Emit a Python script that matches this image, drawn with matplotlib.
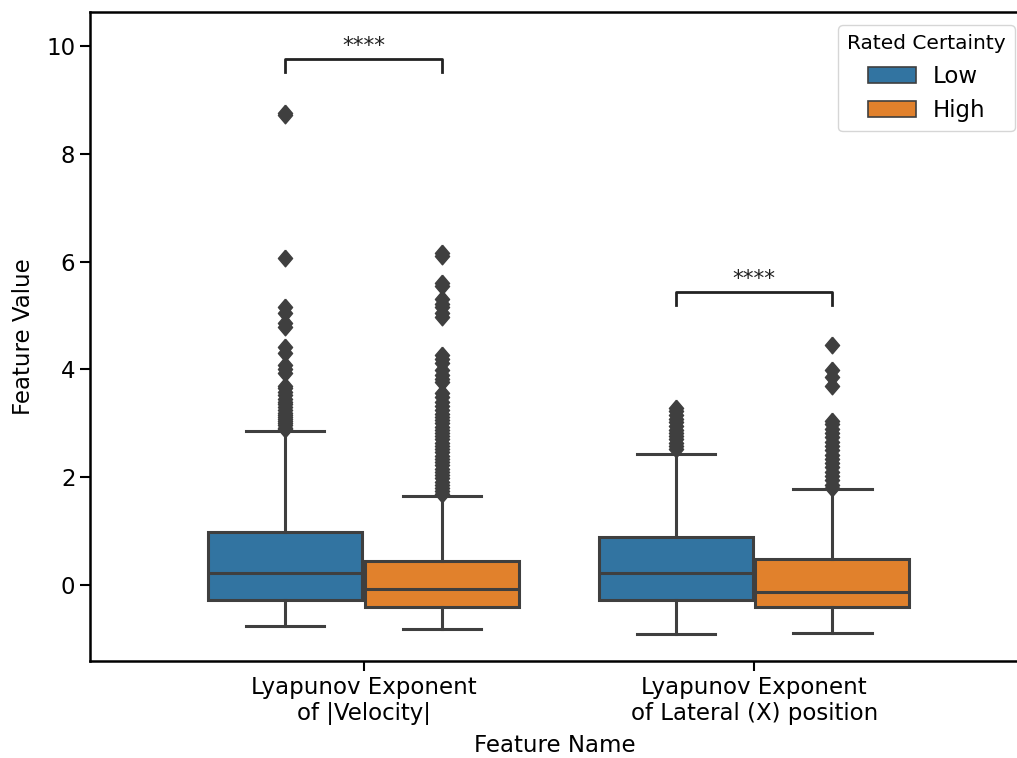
import matplotlib
matplotlib.use("Agg")
import matplotlib.pyplot as plt
from matplotlib.patches import Patch
import numpy as np

features = ["Lyapunov Exponent\nof |Velocity|", "Lyapunov Exponent\nof Lateral (X) position"]
hues = ["Low", "High"]
colors = ["#3274a1", "#e1812c"]

# box summary per feature, [low, high]
q1 = [[-0.28, -0.40], [-0.28, -0.41]]
med = [[0.22, -0.07], [0.23, -0.13]]
q3 = [[0.99, 0.45], [0.89, 0.48]]
whislo = [[-0.76, -0.82], [-0.91, -0.89]]
whishi = [[2.86, 1.65], [2.43, 1.78]]

fliers_vel_low = [8.76, 8.72, 6.07, 5.16, 5.05, 4.86, 4.78, 4.42, 4.30, 4.08, 4.00, 3.93,
                  3.70, 3.65, 3.58, 3.52, 3.45, 3.40, 3.36, 3.30, 3.25, 3.20, 3.16, 3.12,
                  3.08, 3.04, 3.00, 2.96, 2.92, 2.89]
fliers_vel_high = [6.16, 6.10, 5.60, 5.55, 5.30, 5.22, 5.15, 5.05, 4.98, 4.27, 4.20, 4.12,
                   3.98, 3.90, 3.82, 3.76, 3.56, 3.48, 3.40, 3.32, 3.25, 3.18, 3.12, 3.06,
                   3.00, 2.94, 2.88, 2.82, 2.76, 2.70, 2.64, 2.58, 2.52, 2.46, 2.40, 2.34,
                   2.28, 2.22, 2.16, 2.10, 2.04, 1.98, 1.92, 1.86, 1.80, 1.74, 1.69]
fliers_lat_low = [3.28, 3.22, 3.15, 3.08, 3.02, 2.95, 2.88, 2.82, 2.76, 2.70, 2.64, 2.58, 2.52]
fliers_lat_high = [4.45, 3.98, 3.85, 3.70, 3.05, 2.98, 2.90, 2.82, 2.74, 2.66, 2.58, 2.50,
                   2.42, 2.34, 2.26, 2.18, 2.10, 2.02, 1.94, 1.86, 1.80]
fliers = [[fliers_vel_low, fliers_vel_high], [fliers_lat_low, fliers_lat_high]]

# significance brackets: (feature index, height, label)
sig_y = [9.76, 5.44]
sig_text = ["****", "****"]

fs = 16.5
edge = "#3f3f3f"
lw = 2.2
diamond = [(0, 1), (0.85, 0), (0, -1), (-0.85, 0), (0, 1)]

fig = plt.figure(figsize=(10.17, 7.58), dpi=100)
ax = fig.add_axes([90 / 1017, 1 - 661 / 758, 930 / 1017, 649 / 758])

width = 0.4
for i in range(len(features)):
    for j in range(len(hues)):
        pos = i + (j - 0.5) * width
        st = dict(q1=q1[i][j], med=med[i][j], q3=q3[i][j],
                  whislo=whislo[i][j], whishi=whishi[i][j], fliers=fliers[i][j])
        ax.bxp([st], positions=[pos], widths=width * 0.985, patch_artist=True,
               showfliers=True, manage_ticks=False,
               boxprops=dict(facecolor=colors[j], edgecolor=edge, linewidth=lw),
               medianprops=dict(color=edge, linewidth=lw),
               whiskerprops=dict(color=edge, linewidth=lw),
               capprops=dict(color=edge, linewidth=lw),
               capwidths=width * 0.5,
               flierprops=dict(marker=diamond, markerfacecolor=edge, markeredgecolor=edge,
                               markersize=12, linestyle="none"))

for i in range(len(features)):
    y = sig_y[i]
    h = 0.24
    x1, x2 = i - width / 2, i + width / 2
    ax.plot([x1, x1, x2, x2], [y - h, y, y, y - h], color="#222222", lw=2.0)
    ax.text(i, y + 0.06, sig_text[i], ha="center", va="bottom", fontsize=15.5, color="#222222")

ax.set_xlim(-0.70, 1.68)
ax.set_ylim(-1.41, 10.63)
ax.set_xticks(range(len(features)))
ax.set_xticklabels(features, fontsize=fs)
ax.set_yticks([0, 2, 4, 6, 8, 10])
ax.tick_params(axis="y", labelsize=fs, length=7, width=1.5)
ax.tick_params(axis="x", length=7, width=1.5)
ax.set_xlabel("Feature Name", fontsize=fs, labelpad=6)
ax.set_ylabel("Feature Value", fontsize=fs, labelpad=8)
for s in ax.spines.values():
    s.set_linewidth(1.8)

handles = [Patch(facecolor=colors[k], edgecolor=edge, linewidth=1.2, label=hues[k]) for k in range(2)]
leg = ax.legend(handles=handles, title="Rated Certainty", fontsize=fs, title_fontsize=14.5,
                loc="upper right", bbox_to_anchor=(1015 / 1017, 1 - 25 / 758),
                bbox_transform=fig.transFigure, borderaxespad=0, handlelength=2.1,
                handletextpad=0.7, labelspacing=0.5, borderpad=0.4)

fig.savefig("out.png", dpi=100)
